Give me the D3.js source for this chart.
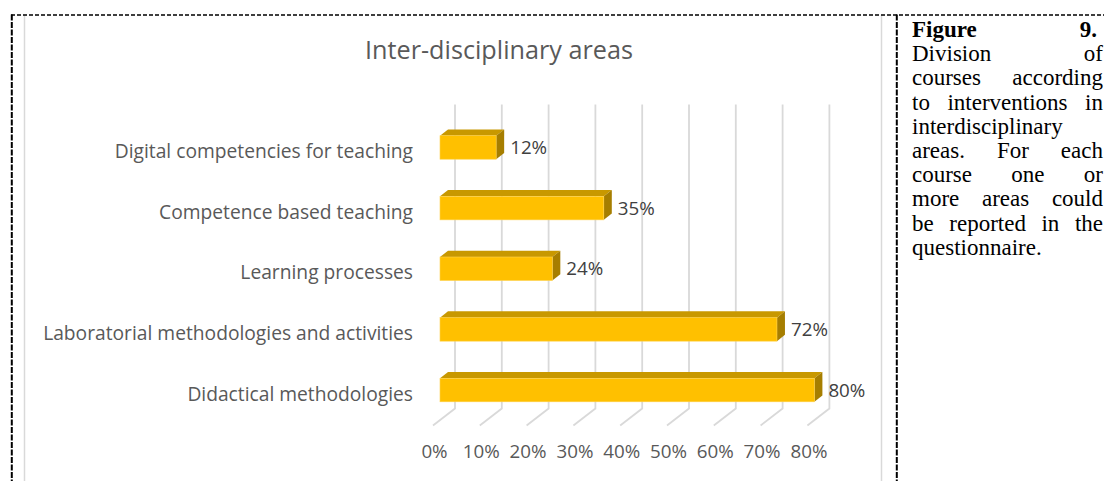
<!DOCTYPE html>
<html>
<head>
<meta charset="utf-8">
<script src="https://cdn.jsdelivr.net/npm/d3@7"></script>
<style>
  html, body { margin: 0; padding: 0; background: #ffffff; }
  svg { display: block; }
</style>
</head>
<body>
<svg id="chart" width="1104" height="481"></svg>
<script>
// ---------- data ----------
const chartTitle = "Inter-disciplinary areas";
const categories = [
  "Digital competencies for teaching",
  "Competence based teaching",
  "Learning processes",
  "Laboratorial methodologies and activities",
  "Didactical methodologies"
];
const values = [12, 35, 24, 72, 80];
const tickValues = [0, 10, 20, 30, 40, 50, 60, 70, 80];
const tickLabels = ["0%", "10%", "20%", "30%", "40%", "50%", "60%", "70%", "80%"];
const captionLines = [
  ["Figure", "9."],
  ["Division", "of"],
  ["courses", "according"],
  ["to", "interventions", "in"],
  ["interdisciplinary"],
  ["areas.", "For", "each"],
  ["course", "one", "or"],
  ["more", "areas", "could"],
  ["be", "reported", "in", "the"],
  ["questionnaire."]
];

// ---------- setup ----------
const svg = d3.select("#chart");
const sansFont = "'Open Sans', 'Noto Sans', sans-serif";
const serifFont = "'Liberation Serif', 'DejaVu Serif', serif";

function fitSize(text, family, weight, targetWidth) {
  const t = svg.append("text").attr("font-family", family).attr("font-weight", weight)
    .attr("font-size", 100).text(text);
  const w = t.node().getComputedTextLength();
  t.remove();
  return 100 * targetWidth / w;
}
function measure(text, family, weight, size) {
  const t = svg.append("text").attr("font-family", family).attr("font-weight", weight)
    .attr("font-size", size).text(text);
  const w = t.node().getComputedTextLength();
  t.remove();
  return w;
}

// scales
const x = d3.scaleLinear().domain([0, 80]).range([440, 814.4]);
const y = d3.scaleBand().domain(categories).range([135.7, 401.8]).paddingInner(0.6125).paddingOuter(0);
const bw = y.bandwidth();

// 3D geometry
const depthX = 8, depthY = 6.3;           // bar depth
const wallDX = 15, wallTop = 104.5, wallBottom = 408.5;
const floorDX = -7, floorBottom = 425.5;

// ---------- chart frame ----------
svg.append("line").attr("x1", 24.5).attr("x2", 24.5).attr("y1", 15).attr("y2", 481)
  .attr("stroke", "#d9d9d9").attr("stroke-width", 1.5);
svg.append("line").attr("x1", 881.5).attr("x2", 881.5).attr("y1", 15).attr("y2", 481)
  .attr("stroke", "#d9d9d9").attr("stroke-width", 1.5);

// ---------- title ----------
const titleSize = fitSize(chartTitle, sansFont, 400, 268);
svg.append("text").attr("x", 499).attr("y", 59).attr("text-anchor", "middle")
  .attr("font-family", sansFont).attr("font-size", titleSize).attr("fill", "#595959")
  .text(chartTitle);

// ---------- gridlines (back wall + floor) ----------
svg.append("g").selectAll("path").data(tickValues).join("path")
  .attr("d", v => `M${x(v) + wallDX},${wallTop} L${x(v) + wallDX},${wallBottom} L${x(v) + floorDX},${floorBottom}`)
  .attr("fill", "none").attr("stroke", "#d9d9d9").attr("stroke-width", 1.8);

// ---------- bars ----------
const rows = categories.map((c, i) => ({ c, v: values[i] }));
const bars = svg.append("g").selectAll("g").data(rows).join("g");
bars.append("path") // top face
  .attr("d", d => {
    const y0 = y(d.c), x0 = x(0), x1 = x(d.v);
    return `M${x0},${y0} L${x0 + depthX},${y0 - depthY} L${x1 + depthX},${y0 - depthY} L${x1},${y0} Z`;
  })
  .attr("fill", "#c89800");
bars.append("path") // right face
  .attr("d", d => {
    const y0 = y(d.c), x1 = x(d.v);
    return `M${x1},${y0} L${x1 + depthX},${y0 - depthY} L${x1 + depthX},${y0 + bw - depthY} L${x1},${y0 + bw} Z`;
  })
  .attr("fill", "#a67e00");
bars.append("rect") // front face
  .attr("x", x(0)).attr("y", d => y(d.c))
  .attr("width", d => x(d.v) - x(0)).attr("height", bw)
  .attr("fill", "#ffc000").attr("stroke", "#ffd24d").attr("stroke-width", 0.6);

// ---------- value labels ----------
const valSize = fitSize("80%", sansFont, 400, 37);
svg.append("g").selectAll("text").data(rows).join("text")
  .attr("x", d => x(d.v) + depthX + 6)
  .attr("y", d => y(d.c) + bw / 2 + 6.5)
  .attr("font-family", sansFont).attr("font-size", valSize).attr("fill", "#404040")
  .text(d => d.v + "%");

// ---------- category axis ----------
const catSize = fitSize(categories[3], sansFont, 400, 370);
const yAxis = svg.append("g").call(d3.axisLeft(y).tickSize(0).tickPadding(0));
yAxis.select(".domain").remove();
yAxis.selectAll(".tick").attr("transform", null);
yAxis.selectAll(".tick text")
  .attr("x", 413).attr("dy", null)
  .attr("y", d => y(d) + bw / 2 + 10.5)
  .attr("text-anchor", "end")
  .attr("font-family", sansFont).attr("font-size", catSize).attr("fill", "#595959");

// ---------- value axis ----------
const tickSize = fitSize("80%", sansFont, 400, 37);
const xAxis = svg.append("g").attr("transform", "translate(-6,0)")
  .call(d3.axisBottom(x).tickValues(tickValues).tickFormat((d, i) => tickLabels[i]).tickSize(0));
xAxis.select(".domain").remove();
xAxis.selectAll(".tick text")
  .attr("y", 458).attr("dy", null)
  .attr("font-family", sansFont).attr("font-size", tickSize).attr("fill", "#595959");

// ---------- dashed frame of the document table ----------
svg.append("line").attr("x1", 11).attr("x2", 1104).attr("y1", 15).attr("y2", 15)
  .attr("stroke", "#000").attr("stroke-width", 1.3).attr("stroke-dasharray", "4,2");
svg.append("line").attr("x1", 11.8).attr("x2", 11.8).attr("y1", 14.5).attr("y2", 481)
  .attr("stroke", "#000").attr("stroke-width", 2).attr("stroke-dasharray", "6,1.5");
svg.append("line").attr("x1", 896.8).attr("x2", 896.8).attr("y1", 14.5).attr("y2", 481)
  .attr("stroke", "#000").attr("stroke-width", 2).attr("stroke-dasharray", "6,1.5");

// ---------- caption (justified) ----------
const capSize = 23, capLeft = 912, capRight = 1103, capTop = 37, capLead = 24.2;
const cap = svg.append("g");
captionLines.forEach((words, li) => {
  const weight = li === 0 ? 700 : 400;
  const by = capTop + li * capLead;
  const isLast = li === captionLines.length - 1;
  const right = li === 0 ? 1097 : capRight;
  if (words.length === 1 || isLast) {
    cap.append("text").attr("x", capLeft).attr("y", by)
      .attr("font-family", serifFont).attr("font-size", capSize).attr("font-weight", weight)
      .attr("fill", "#000").text(words.join(" "));
    return;
  }
  const widths = words.map(w => measure(w, serifFont, weight, capSize));
  const total = d3.sum(widths);
  const gap = (right - capLeft - total) / (words.length - 1);
  let cx = capLeft;
  words.forEach((w, wi) => {
    cap.append("text").attr("x", cx).attr("y", by)
      .attr("font-family", serifFont).attr("font-size", capSize).attr("font-weight", weight)
      .attr("fill", "#000").text(w);
    cx += widths[wi] + gap;
  });
});
</script>
</body>
</html>
